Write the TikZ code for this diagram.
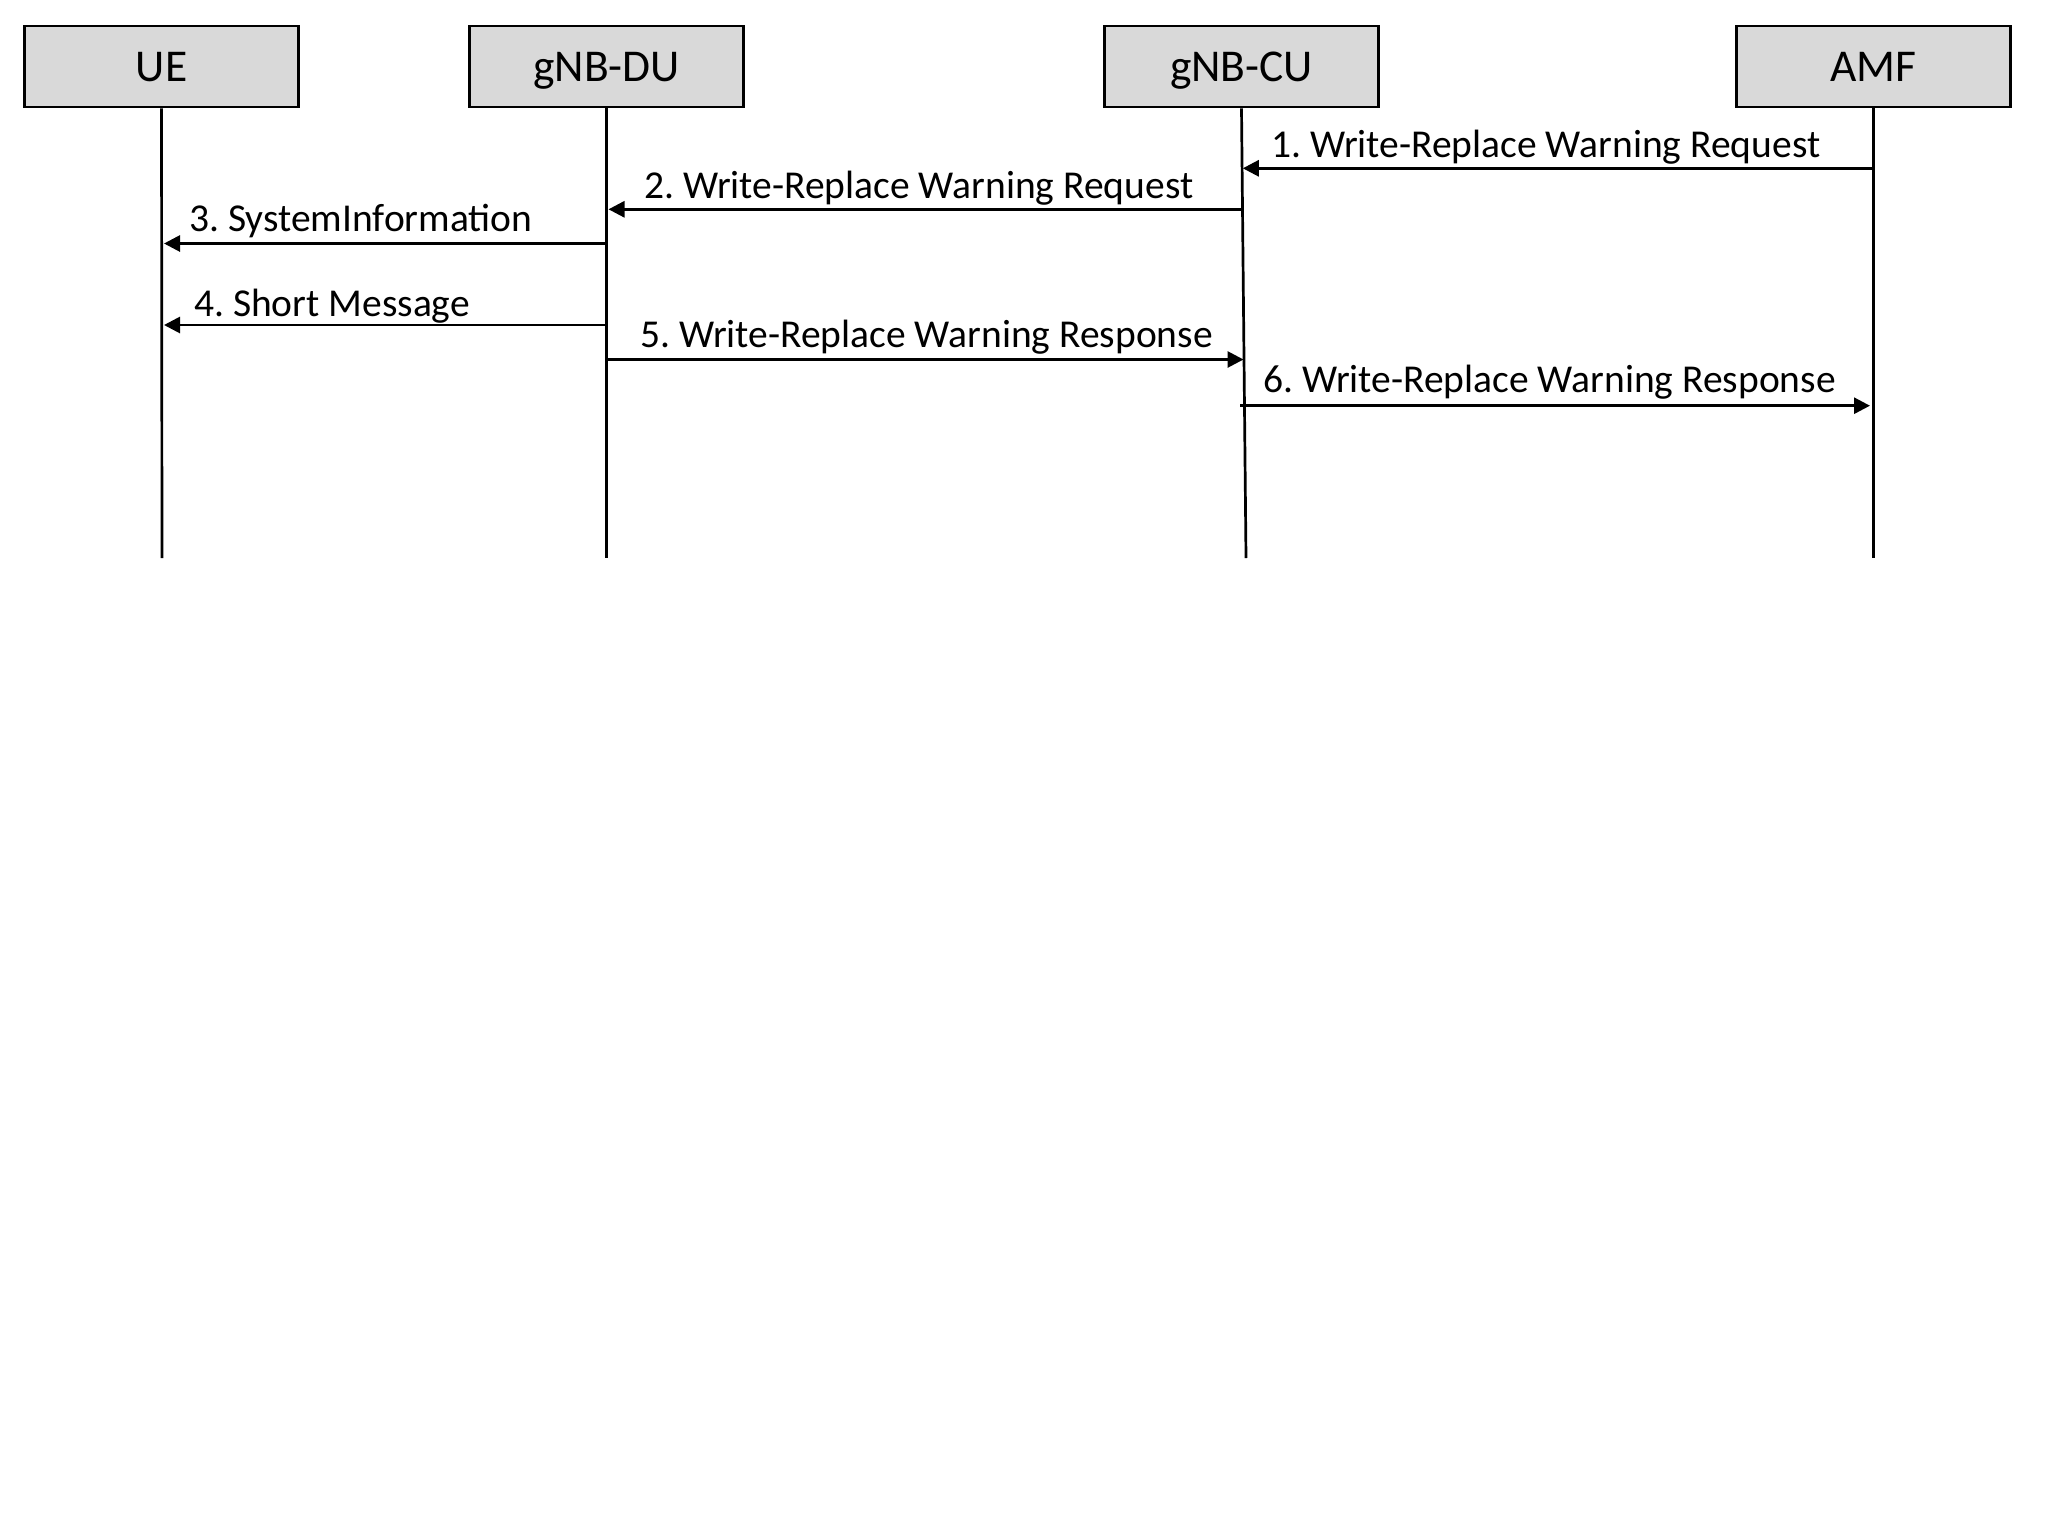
\documentclass[tikz,border=0pt]{standalone}
\usepackage{fontspec}
\setmainfont{Carlito}
\frenchspacing
\usetikzlibrary{arrows.meta}
\definecolor{boxgray}{HTML}{D9D9D9}
\tikzset{
  entity/.style={draw=black, fill=boxgray, line width=2.8pt, minimum width=274pt, minimum height=81pt, inner sep=0pt, text height=30pt, text depth=0pt, font=\fontsize{45.5}{54}\selectfont},
  lifeline/.style={line width=2.7pt},
  msg/.style={line width=2.8pt, -{Triangle[length=16pt,width=16pt]}},
  msglabel/.style={anchor=base west, inner sep=0pt, font=\fontsize{39.5}{47}\selectfont}
}
\begin{document}
\begin{tikzpicture}[x=1pt,y=-1pt]
\useasboundingbox (0,0) rectangle (2048,1537);
% entities
\node[entity] (ue)  at (161.5,66.5)  {UE};
\node[entity] (du)  at (606.5,66.5)  {gNB-DU};
\node[entity] (cu)  at (1241.5,66.5) {gNB-CU};
\node[entity] (amf) at (1873.5,66.5) {AMF};
% lifeline ends
\coordinate (ueE)  at (162,558);
\coordinate (duE)  at (606.5,558);
\coordinate (cuE)  at (1246,558);
\coordinate (amfE) at (1873.5,558);
\draw[lifeline] (ue.south)  -- (ueE);
\draw[lifeline] (du.south)  -- (duE);
\draw[lifeline] (cu.south)  -- (cuE);
\draw[lifeline] (amf.south) -- (amfE);
% message points
\coordinate (m1s) at (1873.5,168.3); \coordinate (m1e) at (1242.8,168.3);
\coordinate (m2s) at (1242,209.3);   \coordinate (m2e) at (608.5,209.3);
\coordinate (m3s) at (605,243.5);    \coordinate (m3e) at (164,243.5);
\coordinate (m4s) at (605,325);      \coordinate (m4e) at (164,325);
\coordinate (m5s) at (606.5,359.5);  \coordinate (m5e) at (1243.5,359.5);
\coordinate (m6s) at (1240,405.7);   \coordinate (m6e) at (1870,405.7);
% messages
\draw[msg] (m1s) -- (m1e);
\draw[msg] (m2s) -- (m2e);
\draw[msg] (m3s) -- (m3e);
\draw[msg] (m4s) -- (m4e);
\draw[msg] (m5s) -- (m5e);
\draw[msg] (m6s) -- (m6e);
% labels
\node[msglabel] (l1) at (1271,157) {1. Write-Replace Warning Request};
\node[msglabel] (l2) at (644,198) {2. Write-Replace Warning Request};
\node[msglabel] (l3) at (189,231.5) {3. SystemInformation};
\node[msglabel] (l4) at (194,316.5) {4. Short Message};
\node[msglabel] (l5) at (640,347.5) {5. Write-Replace Warning Response};
\node[msglabel] (l6) at (1263,392) {6. Write-Replace Warning Response};
\end{tikzpicture}
\end{document}
